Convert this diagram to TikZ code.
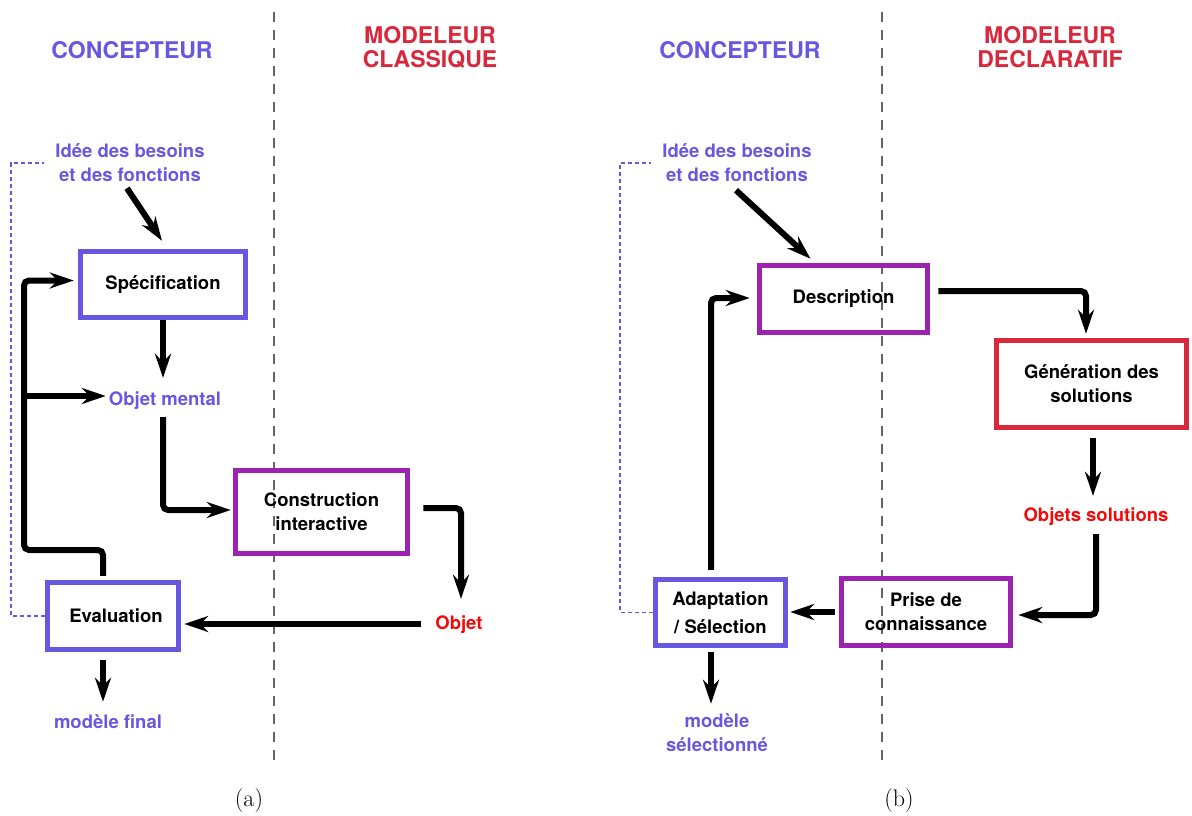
\documentclass[tikz,border=0pt]{standalone}
\usepackage{fontspec}
\newfontfamily\heros{TeX Gyre Heros}
\usetikzlibrary{arrows.meta,calc}
\definecolor{conc}{RGB}{104,88,225}
\definecolor{modc}{RGB}{216,40,62}
\definecolor{purp}{RGB}{155,35,176}
\definecolor{objred}{RGB}{245,8,8}
\definecolor{divgray}{RGB}{100,100,100}
\tikzset{
  txt/.style={font=\heros\bfseries\fontsize{18.5}{24}\selectfont, align=center, inner sep=0pt},
  head/.style={font=\heros\bfseries\fontsize{23}{24}\selectfont, align=center, inner sep=0pt},
  stagebox/.style={draw=#1, line width=5.5pt, inner sep=0pt, align=center, text=black,
    font=\heros\bfseries\fontsize{18.5}{24}\selectfont},
  arr/.style={line width=6pt, rounded corners=5pt, -{Stealth[length=24pt,width=16pt,inset=8pt]}},
  loopline/.style={conc, line width=1.5pt, dash pattern=on 4pt off 3pt},
  divider/.style={divgray, line width=2.5pt, dash pattern=on 10pt off 8pt},
  caption/.style={font=\fontsize{24}{28}\selectfont, inner sep=0pt}
}
\begin{document}
\begin{tikzpicture}[x=1pt,y=-1pt]
\useasboundingbox (0,0) rectangle (1192,816);

% column separators
\draw[divider] (274,12) -- (274,765);
\draw[divider] (882,12) -- (882,765);

% ---------------- (a) classical modeller ----------------
\node[head, conc] (hconcA) at (132,50) {CONCEPTEUR};
\node[head, modc] (hmodA) at (430,47) {MODELEUR\\CLASSIQUE};

\node[txt, conc] (ideaA) at (130,163) {Idée des besoins\\et des fonctions};
\node[stagebox=conc, minimum width=165pt, minimum height=66pt] (spec) at (163,284.5) {Spécification};
\node[txt, conc] (omental) at (165,401) {Objet mental};
\node[stagebox=purp, minimum width=172pt, minimum height=83pt] (constr) at (321.5,512) {Construction\\interactive};
\node[txt, objred] (objet) at (459,625) {Objet};
\node[stagebox=conc, minimum width=131pt, minimum height=67pt] (eval) at (113,616) {\hspace*{6pt}Evaluation};
\node[txt, conc] (mfinal) at (108,722) {modèle final};

\coordinate (loopA) at (24,550);
\coordinate (dashA) at (11,0);

\draw[arr] ($(ideaA.south)+(-3,6)$) -- ([xshift=-1pt,yshift=8pt]spec.north);
\draw[arr] (spec.south) -- ([yshift=14pt]omental.north -| spec.south);
\draw[arr] ([yshift=-7pt]omental.south -| spec.south) |- ([xshift=-2pt,yshift=2pt]constr.west);
\draw[arr] ([xshift=13pt,yshift=4pt]constr.east) -| ([xshift=2pt,yshift=17pt]objet.north);
\draw[arr] ([xshift=-14pt]objet.west |- 0,624) -- ([xshift=3pt]eval.east |- 0,624);
\draw[arr] ([xshift=-10pt,yshift=4pt]eval.north) |- (loopA) |- ([xshift=-4pt,yshift=4pt]spec.west);
\draw[arr] (loopA |- 0,396) -- ([xshift=-3pt]omental.west |- 0,396);
\draw[arr] ([xshift=-10pt,yshift=-8pt]eval.south) -- ([xshift=-10pt,yshift=13pt]eval.south |- mfinal.north);
\draw[loopline] (eval.west) -| (dashA |- ideaA.west) -- ([xshift=-11pt]ideaA.west);

\node[caption] (capA) at (249,801) {(a)};

% ---------------- (b) declarative modeller ----------------
\node[head, conc] (hconcB) at (740,50) {CONCEPTEUR};
\node[head, modc] (hmodB) at (1050,47) {MODELEUR\\DECLARATIF};

\node[txt, conc] (ideaB) at (737,163) {Idée des besoins\\et des fonctions};
\node[stagebox=purp, minimum width=168pt, minimum height=67pt] (desc) at (843.5,299) {Description};
\node[stagebox=modc, minimum width=190pt, minimum height=87pt] (gen) at (1091.5,384) {Génération des\\solutions};
\node[txt, objred] (osol) at (1096,517) {Objets solutions};
\node[stagebox=purp, minimum width=169pt, minimum height=67pt] (prise) at (926,612) {Prise de\\connaissance};
\node[stagebox=conc, minimum width=130pt, minimum height=66pt,
      font=\heros\bfseries\fontsize{18.5}{28}\selectfont] (adapt) at (720.5,612.5) {Adaptation\\/ Sélection};
\node[txt, conc] (msel) at (717,733) {modèle\\sélectionné};

\coordinate (dashB) at (620,0);

\draw[arr] ($(ideaB.south)+(-1,8)$) -- ([xshift=-33pt,yshift=4pt]desc.north);
\draw[arr] ([xshift=8pt,yshift=8pt]desc.east) -| ([xshift=-5.5pt,yshift=4pt]gen.north);
\draw[arr] ([xshift=1.5pt,yshift=-8pt]gen.south) -- ([xshift=-3pt,yshift=12pt]osol.north);
\draw[arr] ([yshift=-8pt]osol.south) |- ([xshift=5pt,yshift=-3pt]prise.east);
\draw[arr] ([xshift=-4pt]prise.west) -- ([xshift=2pt]adapt.east |- prise.west);
\draw[arr] ([xshift=-9.5pt,yshift=7pt]adapt.north) |- ([xshift=-7pt,yshift=1pt]desc.west);
\draw[arr] ([xshift=-9.5pt,yshift=-4pt]adapt.south) -- ([xshift=-9.5pt,yshift=10pt]adapt.south |- msel.north);
\draw[loopline] (adapt.west) -| (dashB |- ideaB.west) -- ([xshift=-11pt]ideaB.west);

\node[caption] (capB) at (899,801) {(b)};
\end{tikzpicture}
\end{document}
